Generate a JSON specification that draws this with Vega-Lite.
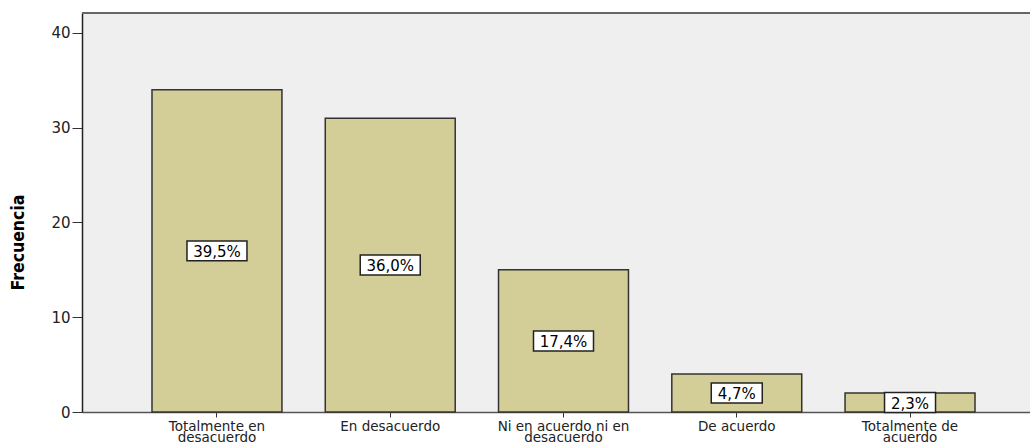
{
  "$schema": "https://vega.github.io/schema/vega-lite/v6.json",
  "autosize": {"type": "none"},
  "padding": {"left": 82, "top": 13, "right": 0, "bottom": 33},
  "width": 948,
  "height": 399,
  "background": "white",
  "config": {
    "view": {"fill": "#EFEFEF", "stroke": null},
    "axis": {"grid": false, "labelFont": "DejaVu Sans", "labelFontSize": 14, "labelColor": "#222", "tickColor": "#333", "tickSize": 5, "domainColor": "#222", "domainWidth": 1.5}
  },
  "data": {
    "values": [
      {"respuesta": "Totalmente en desacuerdo", "frecuencia": 34, "porcentaje": "39,5%"},
      {"respuesta": "En desacuerdo", "frecuencia": 31, "porcentaje": "36,0%"},
      {"respuesta": "Ni en acuerdo ni en desacuerdo", "frecuencia": 15, "porcentaje": "17,4%"},
      {"respuesta": "De acuerdo", "frecuencia": 4, "porcentaje": "4,7%"},
      {"respuesta": "Totalmente de acuerdo", "frecuencia": 2, "porcentaje": "2,3%"}
    ]
  },
  "layer": [
    {
      "mark": {"type": "bar", "fill": "#D3CE97", "stroke": "#333", "strokeWidth": 1.5},
      "encoding": {
        "x": {
          "field": "respuesta",
          "type": "nominal",
          "sort": null,
          "scale": {"range": [0, 963], "paddingInner": 0.25, "paddingOuter": 0.404},
          "axis": {
            "title": null,
            "labelAngle": 0,
            "labelFontSize": 13.5,
            "labelPadding": 2,
            "labelLineHeight": 11.5,
            "labelBaseline": "top",
            "domainColor": "#555",
            "labelExpr": "datum.label == 'Totalmente en desacuerdo' ? ['Totalmente en', 'desacuerdo'] : datum.label == 'Ni en acuerdo ni en desacuerdo' ? ['Ni en acuerdo ni en', 'desacuerdo'] : datum.label == 'Totalmente de acuerdo' ? ['Totalmente de', 'acuerdo'] : datum.label"
          }
        },
        "y": {
          "field": "frecuencia",
          "type": "quantitative",
          "scale": {"domain": [0, 42.1], "nice": false},
          "axis": {
            "title": "Frecuencia",
            "values": [0, 10, 20, 30, 40],
            "tickSize": 10,
            "labelFontSize": 15,
            "labelPadding": 2,
            "titleFont": "DejaVu Sans Condensed",
            "titleFontWeight": "bold",
            "titleFontSize": 17.5,
            "titleColor": "black",
            "titleAngle": -90,
            "titleX": -55,
            "titleY": 229,
            "titleAlign": "center",
            "titleBaseline": "bottom"
          }
        }
      }
    },
    {
      "mark": {"type": "rule", "color": "#666", "strokeWidth": 2},
      "encoding": {"y": {"datum": 42.1, "type": "quantitative"}}
    },
    {
      "transform": [{"calculate": "datum.frecuencia / 2", "as": "medio"}],
      "mark": {"type": "point", "filled": true, "fill": "white", "stroke": "#222", "strokeWidth": 1.5, "opacity": 1},
      "encoding": {
        "x": {"field": "respuesta", "type": "nominal", "sort": null},
        "y": {"field": "medio", "type": "quantitative"},
        "shape": {
          "condition": {"test": "datum.frecuencia >= 10", "value": "M-1,-0.333L1,-0.333L1,0.333L-1,0.333Z"},
          "value": "M-1,-0.392L1,-0.392L1,0.392L-1,0.392Z"
        },
        "size": {
          "condition": {"test": "datum.frecuencia >= 10", "value": 3600},
          "value": 2601
        }
      }
    },
    {
      "transform": [{"calculate": "datum.frecuencia / 2", "as": "medio"}],
      "mark": {"type": "text", "font": "DejaVu Sans", "fontSize": 15, "color": "black", "baseline": "middle", "align": "center", "dy": 1},
      "encoding": {
        "x": {"field": "respuesta", "type": "nominal", "sort": null},
        "y": {"field": "medio", "type": "quantitative"},
        "text": {"field": "porcentaje"}
      }
    }
  ]
}
